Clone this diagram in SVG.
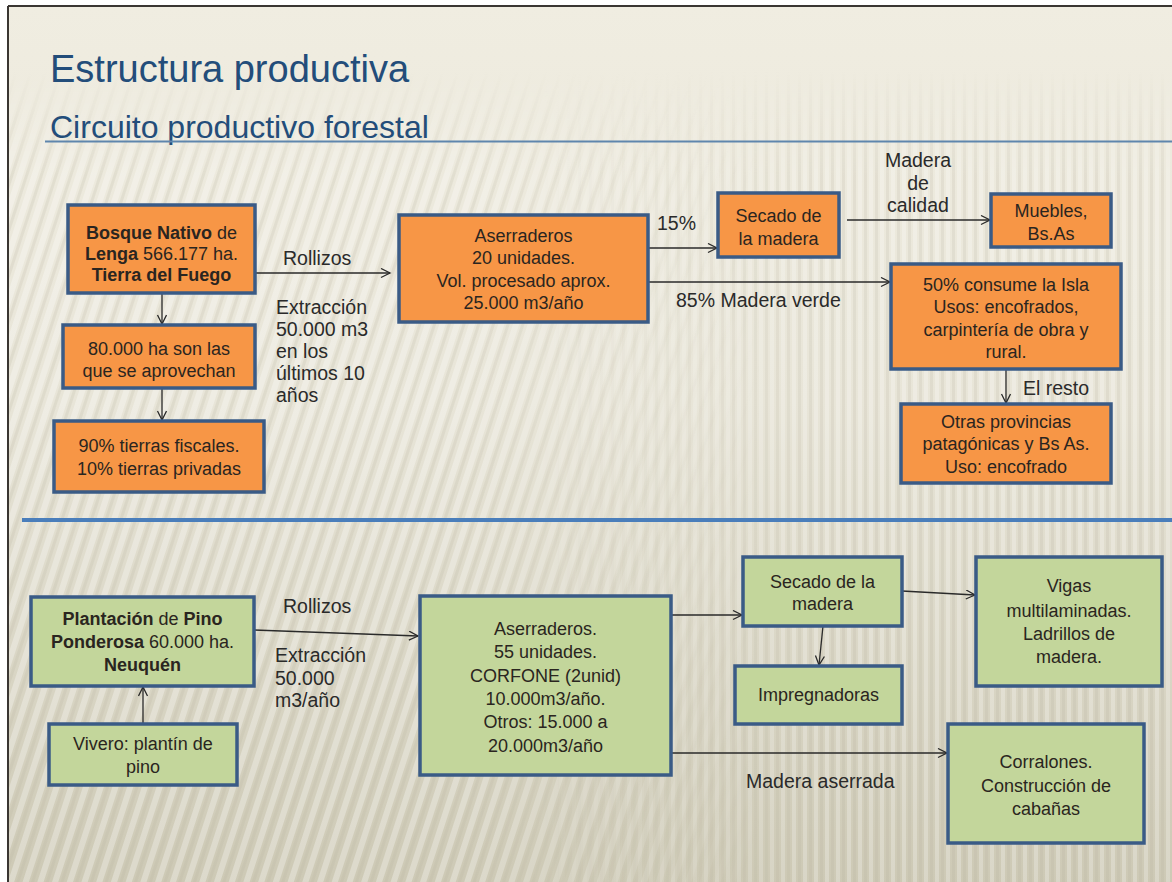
<svg xmlns="http://www.w3.org/2000/svg" width="1172" height="882" viewBox="0 0 1172 882">
  <defs>
    <linearGradient id="bg" x1="0" y1="0" x2="0" y2="1">
      <stop offset="0" stop-color="#f0ede1"/>
      <stop offset="0.45" stop-color="#e8e5d8"/>
      <stop offset="1" stop-color="#cdc9b5"/>
    </linearGradient>
    <pattern id="stripes" width="14" height="14" patternUnits="userSpaceOnUse" patternTransform="rotate(18)">
      <rect x="0" y="0" width="6" height="14" fill="#ffffff" opacity="0.3"/>
      <rect x="8" y="0" width="3" height="14" fill="#b9b49e" opacity="0.2"/>
    </pattern>
    <pattern id="vstripes" width="11" height="11" patternUnits="userSpaceOnUse">
      <rect x="0" y="0" width="4" height="11" fill="#ffffff" opacity="0.25"/>
      <rect x="6" y="0" width="3" height="11" fill="#b1ac96" opacity="0.17"/>
    </pattern>
    <linearGradient id="fadeL" x1="0" y1="0" x2="1172" y2="0" gradientUnits="userSpaceOnUse">
      <stop offset="0.4" stop-color="#fff"/>
      <stop offset="0.65" stop-color="#000"/>
    </linearGradient>
    <linearGradient id="fadeR" x1="0" y1="0" x2="1172" y2="0" gradientUnits="userSpaceOnUse">
      <stop offset="0.45" stop-color="#000"/>
      <stop offset="0.7" stop-color="#fff"/>
    </linearGradient>
    <linearGradient id="fadeT" x1="0" y1="0" x2="0" y2="882" gradientUnits="userSpaceOnUse">
      <stop offset="0.08" stop-color="#000"/>
      <stop offset="0.2" stop-color="#fff"/>
    </linearGradient>
    <mask id="mL"><rect x="0" y="0" width="1172" height="882" fill="url(#fadeL)"/></mask>
    <mask id="mR"><rect x="0" y="0" width="1172" height="882" fill="url(#fadeR)"/></mask>
    <mask id="mT"><rect x="0" y="0" width="1172" height="882" fill="url(#fadeT)"/></mask>
    <marker id="arr" markerWidth="12" markerHeight="12" refX="10" refY="5" orient="auto" markerUnits="userSpaceOnUse">
      <path d="M1,0.5 L10,5 L1,9.5" fill="none" stroke="#2a2a2a" stroke-width="1.3"/>
    </marker>
  </defs>
  <style>
    .title { font-family: "Liberation Sans", Arial, sans-serif; fill: #234d7a; }
    .org { fill: #f79646; stroke: #3a5b86; stroke-width: 3.5; }
    .grn { fill: #c3d69b; stroke: #3a5b86; stroke-width: 3.5; }
    .nt { font-family: "Liberation Sans", Arial, sans-serif; font-size: 18px; fill: #2a2520; text-anchor: middle; }
    .lbl { font-family: "Liberation Sans", Arial, sans-serif; font-size: 19.5px; fill: #2a2a2a; }
    .b { font-weight: bold; }
    .con { fill: none; stroke: #2a2a2a; stroke-width: 1.3; marker-end: url(#arr); }
  </style>

  <!-- background / frame -->
  <rect x="0" y="0" width="1172" height="882" fill="#ffffff"/>
  <rect x="8" y="6" width="1170" height="880" fill="url(#bg)"/>
  <g mask="url(#mT)">
    <rect x="8" y="6" width="1170" height="880" fill="url(#stripes)" mask="url(#mL)"/>
    <rect x="8" y="6" width="1170" height="880" fill="url(#vstripes)" mask="url(#mR)"/>
  </g>
  <line x1="8" y1="6" x2="1172" y2="6" stroke="#3a3632" stroke-width="2"/>
  <line x1="8" y1="6" x2="8" y2="882" stroke="#3a3632" stroke-width="2"/>

  <!-- titles -->
  <text class="title" x="50" y="82" font-size="38">Estructura productiva</text>
  <text class="title" x="50" y="138" font-size="32">Circuito productivo forestal</text>
  <line x1="45" y1="141.5" x2="1172" y2="141.5" stroke="#5f86ad" stroke-width="2"/>
  <line x1="22" y1="520" x2="1172" y2="520" stroke="#4a7ebb" stroke-width="4"/>

  <!-- connectors -->
  <g id="connectors">
    <line class="con" x1="255" y1="273" x2="390" y2="273"/>
    <line class="con" x1="162" y1="293" x2="162" y2="324"/>
    <line class="con" x1="162" y1="388" x2="162" y2="420"/>
    <line class="con" x1="648" y1="248" x2="717" y2="248"/>
    <line class="con" x1="648" y1="282" x2="890" y2="282"/>
    <line class="con" x1="847" y1="220" x2="990" y2="220"/>
    <line class="con" x1="1006" y1="369" x2="1006" y2="403"/>
    <line class="con" x1="254" y1="630" x2="418" y2="636"/>
    <line class="con" x1="143" y1="724" x2="143" y2="687"/>
    <line class="con" x1="671" y1="615" x2="742" y2="615"/>
    <line class="con" x1="823" y1="626" x2="819" y2="665"/>
    <line class="con" x1="902" y1="591" x2="975" y2="595"/>
    <line class="con" x1="671" y1="753" x2="947" y2="753"/>

    <text class="lbl" x="283" y="265">Rollizos</text>
    <text class="lbl" x="276" y="314">Extracción</text>
    <text class="lbl" x="276" y="336">50.000 m3</text>
    <text class="lbl" x="276" y="358">en los</text>
    <text class="lbl" x="276" y="380">últimos 10</text>
    <text class="lbl" x="276" y="402">años</text>
    <text class="lbl" x="657" y="230">15%</text>
    <text class="lbl" x="676" y="307">85% Madera verde</text>
    <text class="lbl" x="918" y="167" text-anchor="middle">Madera</text>
    <text class="lbl" x="918" y="190" text-anchor="middle">de</text>
    <text class="lbl" x="918" y="212" text-anchor="middle">calidad</text>
    <text class="lbl" x="1023" y="395">El resto</text>
    <text class="lbl" x="283" y="613">Rollizos</text>
    <text class="lbl" x="275" y="662">Extracción</text>
    <text class="lbl" x="275" y="685">50.000</text>
    <text class="lbl" x="275" y="707">m3/año</text>
    <text class="lbl" x="746" y="788">Madera aserrada</text>
  </g>

  <!-- top section nodes -->
  <g id="bosque">
    <rect class="org" x="68" y="205" width="187" height="88"/>
    <text class="nt" x="161.5" y="239"><tspan class="b">Bosque Nativo</tspan> de</text>
    <text class="nt" x="161.5" y="260"><tspan class="b">Lenga</tspan> 566.177 ha.</text>
    <text class="nt b" x="161.5" y="281">Tierra del Fuego</text>
  </g>
  <g id="aprovechan">
    <rect class="org" x="63" y="325" width="192" height="63"/>
    <text class="nt" x="159" y="355">80.000 ha son las</text>
    <text class="nt" x="159" y="377">que se aprovechan</text>
  </g>
  <g id="tierras">
    <rect class="org" x="54" y="421" width="210" height="71"/>
    <text class="nt" x="159" y="452">90% tierras fiscales.</text>
    <text class="nt" x="159" y="475">10% tierras privadas</text>
  </g>
  <g id="aserraderos-top">
    <rect class="org" x="399" y="215" width="249" height="107"/>
    <text class="nt" x="523.5" y="242">Aserraderos</text>
    <text class="nt" x="523.5" y="264">20 unidades.</text>
    <text class="nt" x="523.5" y="287">Vol. procesado aprox.</text>
    <text class="nt" x="523.5" y="309">25.000 m3/año</text>
  </g>
  <g id="secado-top">
    <rect class="org" x="718" y="193" width="121" height="64"/>
    <text class="nt" x="778.5" y="222">Secado de</text>
    <text class="nt" x="778.5" y="245">la madera</text>
  </g>
  <g id="muebles">
    <rect class="org" x="991" y="194" width="120" height="53"/>
    <text class="nt" x="1051" y="217">Muebles,</text>
    <text class="nt" x="1051" y="240">Bs.As</text>
  </g>
  <g id="isla">
    <rect class="org" x="891" y="264" width="230" height="105"/>
    <text class="nt" x="1006" y="291">50% consume la Isla</text>
    <text class="nt" x="1006" y="313">Usos: encofrados,</text>
    <text class="nt" x="1006" y="336">carpintería de obra y</text>
    <text class="nt" x="1006" y="358">rural.</text>
  </g>
  <g id="otras">
    <rect class="org" x="901" y="404" width="210" height="79"/>
    <text class="nt" x="1006" y="428">Otras provincias</text>
    <text class="nt" x="1006" y="450">patagónicas y Bs As.</text>
    <text class="nt" x="1006" y="473">Uso: encofrado</text>
  </g>

  <!-- bottom section nodes -->
  <g id="plantacion">
    <rect class="grn" x="31" y="597" width="223" height="89"/>
    <text class="nt" x="142.5" y="625"><tspan class="b">Plantación</tspan> de <tspan class="b">Pino</tspan></text>
    <text class="nt" x="142.5" y="648"><tspan class="b">Ponderosa</tspan> 60.000 ha.</text>
    <text class="nt b" x="142.5" y="671">Neuquén</text>
  </g>
  <g id="vivero">
    <rect class="grn" x="49" y="724" width="188" height="61"/>
    <text class="nt" x="143" y="750">Vivero: plantín de</text>
    <text class="nt" x="143" y="773">pino</text>
  </g>
  <g id="aserraderos-bottom">
    <rect class="grn" x="420" y="596" width="251" height="179"/>
    <text class="nt" x="545.5" y="635">Aserraderos.</text>
    <text class="nt" x="545.5" y="658">55 unidades.</text>
    <text class="nt" x="545.5" y="682">CORFONE (2unid)</text>
    <text class="nt" x="545.5" y="705">10.000m3/año.</text>
    <text class="nt" x="545.5" y="728">Otros: 15.000 a</text>
    <text class="nt" x="545.5" y="752">20.000m3/año</text>
  </g>
  <g id="secado-bottom">
    <rect class="grn" x="743" y="557" width="159" height="69"/>
    <text class="nt" x="822.5" y="588">Secado de la</text>
    <text class="nt" x="822.5" y="610">madera</text>
  </g>
  <g id="impregnadoras">
    <rect class="grn" x="735" y="666" width="167" height="58"/>
    <text class="nt" x="818.5" y="701">Impregnadoras</text>
  </g>
  <g id="vigas">
    <rect class="grn" x="976" y="557" width="186" height="129"/>
    <text class="nt" x="1069" y="592">Vigas</text>
    <text class="nt" x="1069" y="617">multilaminadas.</text>
    <text class="nt" x="1069" y="640">Ladrillos de</text>
    <text class="nt" x="1069" y="663">madera.</text>
  </g>
  <g id="corralones">
    <rect class="grn" x="948" y="724" width="196" height="119"/>
    <text class="nt" x="1046" y="768">Corralones.</text>
    <text class="nt" x="1046" y="792">Construcción de</text>
    <text class="nt" x="1046" y="815">cabañas</text>
  </g>
</svg>
